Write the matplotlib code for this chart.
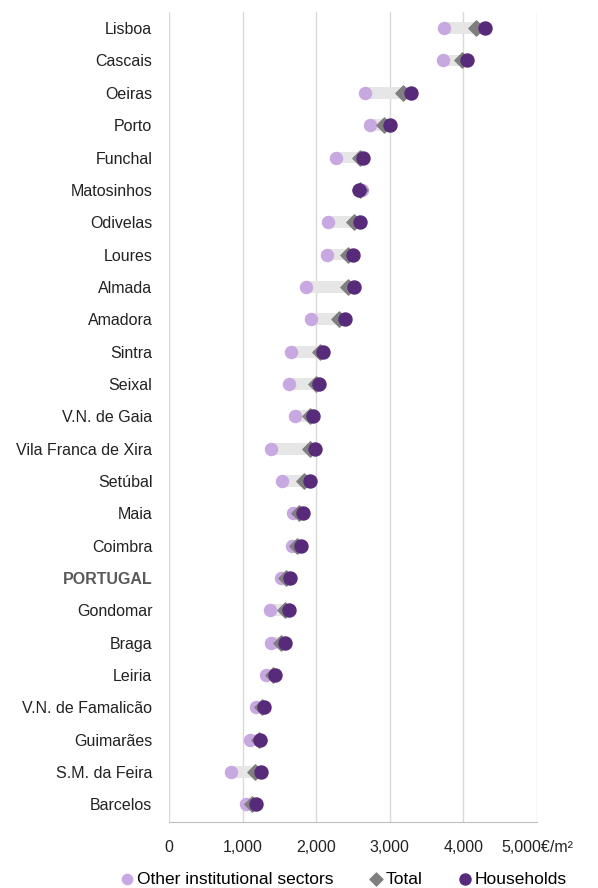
import matplotlib
matplotlib.use("Agg")
import matplotlib.pyplot as plt
import numpy as np

# municipalities, from top to bottom of the chart
municipalities = ["Lisboa", "Cascais", "Oeiras", "Porto", "Funchal", "Matosinhos",
                  "Odivelas", "Loures", "Almada", "Amadora", "Sintra", "Seixal",
                  "V.N. de Gaia", "Vila Franca de Xira", "Setúbal", "Maia", "Coimbra",
                  "PORTUGAL", "Gondomar", "Braga", "Leiria", "V.N. de Famalicão",
                  "Guimarães", "S.M. da Feira", "Barcelos"]

# median price per m2 (euros)
otherSectors = [3732, 3719, 2667, 2726, 2268, 2620, 2154, 2145, 1855, 1936, 1651, 1637,
                1710, 1392, 1533, 1683, 1678, 1528, 1368, 1383, 1316, 1176, 1104, 839, 1047]
totalValues = [4177, 3982, 3179, 2925, 2590, 2590, 2508, 2426, 2426, 2304, 2045, 1991,
               1918, 1909, 1837, 1773, 1737, 1590, 1580, 1528, 1409, 1269, 1218, 1166, 1124]
households = [4290, 4050, 3288, 3007, 2635, 2585, 2590, 2499, 2508, 2385, 2091, 2041,
              1959, 1986, 1914, 1819, 1800, 1642, 1632, 1570, 1446, 1290, 1238, 1244, 1181]

xTicks = [0, 1000, 2000, 3000, 4000, 5000]
xTickLabels = ["0", "1,000", "2,000", "3,000", "4,000", "5,000€/m²"]

plt.rcParams['font.family'] = ['Liberation Sans', 'DejaVu Sans']


def drawDumbbellChart(outputImageFileName):
    fig = plt.figure(figsize=(5.98, 8.88), dpi=100)
    ax = fig.add_axes([0.2826, 0.0743, 0.6154, 0.9122])

    rows = np.arange(len(municipalities))
    other = np.array(otherSectors)
    house = np.array(households)

    # light grey band between the two sectors
    ax.barh(rows, house - other, left=other, height=0.37, color='#e6e6e6', zorder=2)

    ax.scatter(other, rows, s=75, color='#c8a8e0', zorder=3, label='Other institutional sectors')
    ax.scatter(totalValues, rows, s=60, marker='D', color='#7f7f7f', zorder=4, label='Total')
    ax.scatter(house, rows, s=88, color='#582a7a', zorder=5, label='Households')

    ax.set_xlim(0, 5000)
    ax.set_ylim(len(municipalities) - 0.45, -0.5)

    ax.set_xticks(xTicks)
    ax.set_xticklabels(xTickLabels, fontsize=11.5, color='#222222')
    ax.set_yticks(rows)
    yNames = ax.set_yticklabels(municipalities, fontsize=11.5, color='#222222')
    # the national figure is highlighted in bold grey
    for label in yNames:
        if label.get_text() == "PORTUGAL":
            label.set_fontweight('bold')
            label.set_color('#595959')

    ax.tick_params(axis='both', length=0)
    ax.tick_params(axis='x', pad=13)
    ax.tick_params(axis='y', pad=12)

    ax.grid(axis='x', color='#d9d9d9', linewidth=1, zorder=0)
    ax.set_axisbelow(True)
    for side in ['top', 'right', 'left']:
        ax.spines[side].set_visible(False)
    ax.spines['bottom'].set_color('#bfbfbf')

    handles, labels = ax.get_legend_handles_labels()
    fig.legend(handles, labels, loc='lower center', bbox_to_anchor=(0.572, -0.016),
               ncol=3, frameon=False, fontsize=12.5, handletextpad=0.0,
               columnspacing=1.9, markerscale=0.85, handlelength=1.1)

    plt.savefig(outputImageFileName, dpi=100)
    plt.close()


drawDumbbellChart("out.png")
